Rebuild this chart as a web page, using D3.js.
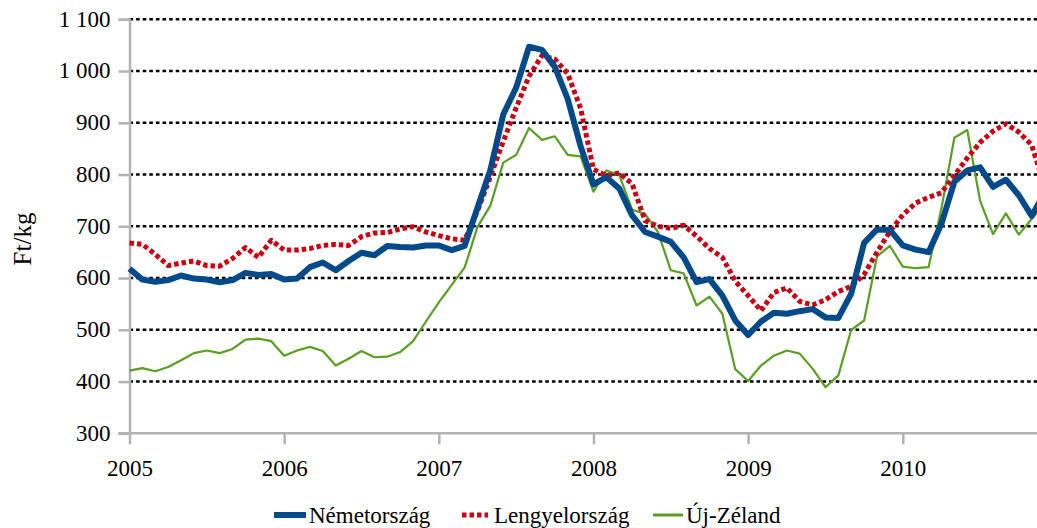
<!DOCTYPE html>
<html>
<head>
<meta charset="utf-8">
<script src="https://cdn.jsdelivr.net/npm/d3@7"></script>
<style>
  html, body { margin: 0; padding: 0; background: #ffffff; }
  svg { display: block; }
  svg text { font-family: "Liberation Serif", "DejaVu Serif", serif !important; fill: #000; }
</style>
</head>
<body>
<svg id="chart" width="1037" height="528" font-family="Liberation Serif, DejaVu Serif, serif"></svg>
<script>
// ---- data (monthly, Jan 2005 onwards), Ft/kg ----
const yearTicks = ["2005", "2006", "2007", "2008", "2009", "2010"];
const yTickValues = [300, 400, 500, 600, 700, 800, 900, 1000, 1100];
const seriesNames = ["Németország", "Lengyelország", "Új-Zéland"];

const nemetorszag = [
  618, 597, 593, 596, 605, 599, 597, 592, 596, 610, 606, 608,
  597, 599, 621, 630, 615, 633, 649, 644, 662, 660, 659, 663,
  663, 654, 662, 736, 809, 916, 968, 1047, 1041, 1008, 946, 855,
  781, 795, 773, 721, 689, 680, 670, 640, 592, 598, 566, 518,
  490, 516, 533, 531, 536, 540, 524, 523, 570, 668, 694, 693,
  663, 655, 650, 705, 786, 808, 814, 776, 790, 760, 720, 765
];
const lengyelorszag = [
  668, 665, 646, 624, 629, 633, 624, 623, 638, 659, 640, 673,
  654, 654, 657, 663, 665, 663, 680, 687, 688, 695, 699, 689,
  682, 676, 673, 730, 796, 864, 929, 990, 1030, 1023, 995, 928,
  810, 798, 803, 782, 711, 700, 696, 702, 681, 657, 640, 594,
  566, 537, 572, 581, 555, 548, 558, 574, 584, 607, 650, 690,
  722, 745, 756, 765, 798, 832, 862, 884, 898, 882, 857, 778
];
const ujZeland = [
  421, 426, 420, 428, 441, 455, 460, 455, 463, 481, 483, 478,
  450, 460, 467, 459, 431, 444, 459, 447, 448, 457, 478, 516,
  553, 587, 620, 699, 740, 823, 838, 890, 867, 874, 838, 835,
  767, 808, 799, 732, 724, 689, 615, 609, 547, 564, 531, 424,
  401, 431, 450, 460, 454, 425, 389, 412, 500, 518, 642, 662,
  622, 619, 621, 735, 871, 886, 749, 685, 725, 684, 714, 743
];

// ---- layout ----
const FONT = "'Liberation Serif', 'DejaVu Serif', serif";
const FS = "23px";
const svg = d3.select("#chart");
const x = d3.scaleLinear().domain([0, 60]).range([129.5, 902.8]);
const y = d3.scaleLinear().domain([300, 1100]).range([433.3, 19.3]);
const axisColor = "#b3b3b3";

// gridlines
svg.append("g").selectAll("line")
  .data(yTickValues.filter(v => v > 300))
  .join("line")
  .attr("x1", x(0)).attr("x2", 1037)
  .attr("y1", d => y(d)).attr("y2", d => y(d))
  .attr("stroke", "#000").attr("stroke-width", 2.4)
  .attr("stroke-dasharray", "3.6,3");

// y axis
const yAxis = d3.axisLeft(y).tickValues(yTickValues).tickSize(11).tickPadding(8)
  .tickFormat(d => d >= 1000 ? d3.format(",")(d).replace(",", " ") : d);
const gy = svg.append("g").attr("transform", `translate(${x(0)},0)`).call(yAxis)
  .attr("font-family", FONT);
gy.select(".domain").attr("stroke", axisColor).attr("stroke-width", 2.5);
gy.selectAll(".tick line").attr("stroke", axisColor).attr("stroke-width", 2.5);
gy.selectAll(".tick text").style("font-size", FS).attr("fill", "#000").attr("dy", "0.3em");

// x axis
const xAxis = d3.axisBottom(x).tickValues([0, 12, 24, 36, 48, 60]).tickSize(11).tickPadding(14)
  .tickFormat((d, i) => yearTicks[i]);
const gx = svg.append("g").attr("transform", `translate(0,${y(300)})`).call(xAxis)
  .attr("font-family", FONT);
gx.select(".domain").remove();
gx.append("line").attr("x1", x(0) - 11).attr("x2", 1037).attr("y1", 0).attr("y2", 0)
  .attr("stroke", axisColor).attr("stroke-width", 2.5);
gx.selectAll(".tick line").attr("stroke", axisColor).attr("stroke-width", 2.5);
gx.selectAll(".tick text").style("font-size", FS).attr("fill", "#000")
  .attr("y", 43).attr("dy", null);

// y title
svg.append("text")
  .attr("transform", "translate(31,239) rotate(-90)")
  .attr("text-anchor", "middle")
  .style("font-size", "25px")
  .text("Ft/kg");

// lines
const line = d3.line().x((d, i) => x(i)).y(d => y(d));
const styles = [
  { data: ujZeland, color: "#5a9e23", width: 2.2, dash: null },
  { data: lengyelorszag, color: "#cc0011", width: 5, dash: "4.5,3" },
  { data: nemetorszag, color: "#034a8a", width: 6, dash: null }
];
styles.forEach(s => {
  svg.append("path").datum(s.data)
    .attr("d", line)
    .attr("fill", "none")
    .attr("stroke", s.color)
    .attr("stroke-width", s.width)
    .attr("stroke-linejoin", "round")
    .attr("stroke-dasharray", s.dash);
});

// legend
const legendItems = [
  { name: seriesNames[0], color: "#034a8a", width: 6, dash: null, x0: 274, x1: 306, tx: 309 },
  { name: seriesNames[1], color: "#cc0011", width: 5, dash: "4.5,3", x0: 462, x1: 488, tx: 494 },
  { name: seriesNames[2], color: "#5a9e23", width: 3, dash: null, x0: 653, x1: 683, tx: 686 }
];
const lg = svg.append("g");
legendItems.forEach(it => {
  lg.append("line").attr("x1", it.x0).attr("x2", it.x1).attr("y1", 515).attr("y2", 515)
    .attr("stroke", it.color).attr("stroke-width", it.width).attr("stroke-dasharray", it.dash);
  lg.append("text").attr("x", it.tx).attr("y", 523).style("font-size", FS).text(it.name);
});
</script>
</body>
</html>
